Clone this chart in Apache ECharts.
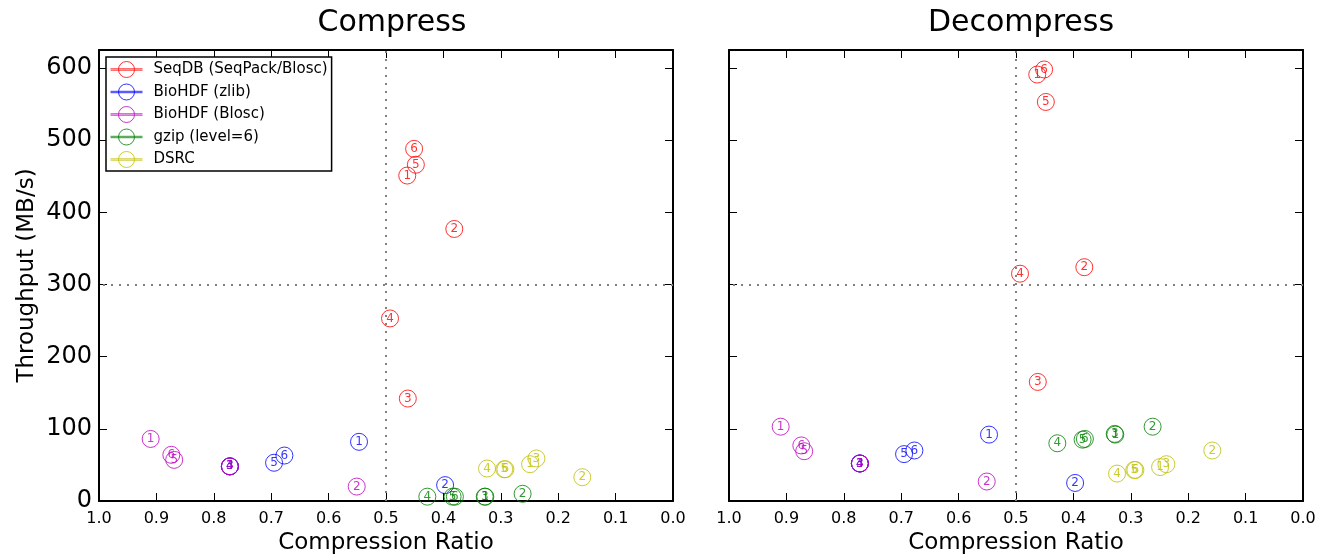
<!DOCTYPE html>
<html>
<head>
<meta charset="utf-8">
<script src="https://cdn.jsdelivr.net/npm/echarts@6/dist/echarts.min.js"></script>
<style>
html, body { margin: 0; padding: 0; background: #fff; }
#chart { width: 1330px; height: 560px; }
</style>
</head>
<body>
<div id="chart"></div>
<script>
// compression levels shown inside each marker
var levels = [1, 2, 3, 4, 5, 6];
var methods = ['SeqDB (SeqPack/Blosc)', 'BioHDF (zlib)', 'BioHDF (Blosc)', 'gzip (level=6)', 'DSRC'];
var colors = ['#ff0000', '#0000ff', '#bf00bf', '#008000', '#bfbf00'];

// compression ratio per level
var ratioSeqdb = [0.463, 0.381, 0.462, 0.493, 0.448, 0.451];
var ratioZlib = [0.547, 0.397, 0.772, 0.772, 0.695, 0.677];
var ratioBlosc = [0.910, 0.551, 0.772, 0.772, 0.869, 0.874];
var ratioGzip = [0.327, 0.262, 0.328, 0.428, 0.384, 0.380];
var ratioDsrc = [0.249, 0.158, 0.238, 0.324, 0.294, 0.292];

// throughput MB/s, compress
var compSeqdb = [451, 377, 142, 253, 466, 488];
var compZlib = [82, 22, 48, 48, 53, 63];
var compBlosc = [86, 20, 48, 48, 57, 64];
var compGzip = [6, 10, 6, 6, 6, 6];
var compDsrc = [51, 33, 59, 45, 44, 44];

// throughput MB/s, decompress
var decSeqdb = [591, 324, 165, 315, 553, 598];
var decZlib = [92, 25, 52, 52, 65, 70];
var decBlosc = [103, 27, 52, 52, 69, 77];
var decGzip = [92, 103, 93, 80, 85, 86];
var decDsrc = [47, 70, 51, 38, 43, 43];

var ratios = [ratioSeqdb, ratioZlib, ratioBlosc, ratioGzip, ratioDsrc];
var comp = [compSeqdb, compZlib, compBlosc, compGzip, compDsrc];
var dec = [decSeqdb, decZlib, decBlosc, decGzip, decDsrc];

var font = 'DejaVu Sans';
// line (drawn twice so it looks thicker) with a hollow circle on it
var legendIcon = 'path://M0,7.3L32,7.3M0,8.7L32,8.7M8,8A8,8,0,1,1,24,8A8,8,0,1,1,8,8Z';

function pts(r, t) {
	return levels.map(function (lv, i) { return [r[i], t[i], lv]; });
}

var frameLine = { show: true, onZero: false, lineStyle: { color: '#000', width: 2 } };
var tick = { show: true, inside: true, length: 8, lineStyle: { color: '#000' } };

function xAxes(gi) {
	return [
		{
			gridIndex: gi, type: 'value', inverse: true, min: 0, max: 1, interval: 0.1,
			name: 'Compression Ratio', nameLocation: 'middle', nameGap: 31,
			nameTextStyle: { fontFamily: font, fontSize: 23, color: '#000' },
			axisLine: frameLine, axisTick: tick,
			axisLabel: { fontFamily: font, fontSize: 16, color: '#000', margin: 10,
				formatter: function (v) { return v.toFixed(1); } },
			splitLine: { show: false }
		},
		{
			gridIndex: gi, type: 'value', position: 'top', inverse: true, min: 0, max: 1, interval: 0.1,
			axisLine: frameLine, axisTick: tick,
			axisLabel: { show: false }, splitLine: { show: false }
		}
	];
}

function yAxes(gi, labels) {
	return [
		{
			gridIndex: gi, type: 'value', min: 0, max: 625, interval: 100,
			name: labels ? 'Throughput (MB/s)' : '', nameLocation: 'middle', nameGap: 60,
			nameTextStyle: { fontFamily: font, fontSize: 23, color: '#000' },
			axisLine: frameLine, axisTick: tick,
			axisLabel: { show: labels, fontFamily: font, fontSize: 24, color: '#000', margin: 7,
				formatter: function (v) { return v > 600 ? '' : v; } },
			splitLine: { show: false }
		},
		{
			gridIndex: gi, type: 'value', position: 'right', min: 0, max: 625, interval: 100,
			axisLine: frameLine, axisTick: tick,
			axisLabel: { show: false }, splitLine: { show: false }
		}
	];
}

var series = [];
[comp, dec].forEach(function (vals, gi) {
	methods.forEach(function (m, k) {
		var s = {
			name: m,
			type: 'scatter',
			xAxisIndex: gi * 2,
			yAxisIndex: gi * 2,
			symbol: 'circle',
			symbolSize: 17,
			itemStyle: { color: 'transparent', borderColor: colors[k], borderWidth: 1 },
			label: {
				show: true, position: 'inside', color: colors[k],
				fontFamily: font, fontSize: 12,
				formatter: function (p) { return p.value[2]; }
			},
			emphasis: { disabled: true },
			data: pts(ratios[k], vals[k])
		};
		if (k === 0) {
			s.markLine = {
				silent: true, symbol: 'none', label: { show: false },
				lineStyle: { color: '#808080', type: [2, 6], width: 2 },
				data: [{ xAxis: 0.5 }, { yAxis: 300 }]
			};
		}
		series.push(s);
	});
});

var chart = echarts.init(document.getElementById('chart'));
chart.setOption({
	animation: false,
	backgroundColor: '#fff',
	title: [
		{ text: 'Compress', left: 387, top: 3, textAlign: 'center',
			textStyle: { fontFamily: font, fontSize: 30, fontWeight: 'normal', color: '#000' } },
		{ text: 'Decompress', left: 1016, top: 3, textAlign: 'center',
			textStyle: { fontFamily: font, fontSize: 30, fontWeight: 'normal', color: '#000' } }
	],
	legend: {
		orient: 'vertical', left: 106, top: 57,
		padding: [4, 4, 3, 4],
		backgroundColor: '#fff', borderColor: '#000', borderWidth: 1.5,
		itemWidth: 32, itemHeight: 16, itemGap: 5.5,
		textStyle: { fontFamily: font, fontSize: 15, color: '#000', padding: [0, 0, 0, 6] },
		selectedMode: false,
		data: methods.map(function (m, k) {
			return { name: m, icon: legendIcon,
				itemStyle: { color: 'transparent', borderColor: colors[k], borderWidth: 1 } };
		})
	},
	grid: [
		{ left: 99, top: 50, width: 574, height: 452 },
		{ left: 729, top: 50, width: 574, height: 452 }
	],
	xAxis: xAxes(0).concat(xAxes(1)),
	yAxis: yAxes(0, true).concat(yAxes(1, false)),
	series: series
});
</script>
</body>
</html>
